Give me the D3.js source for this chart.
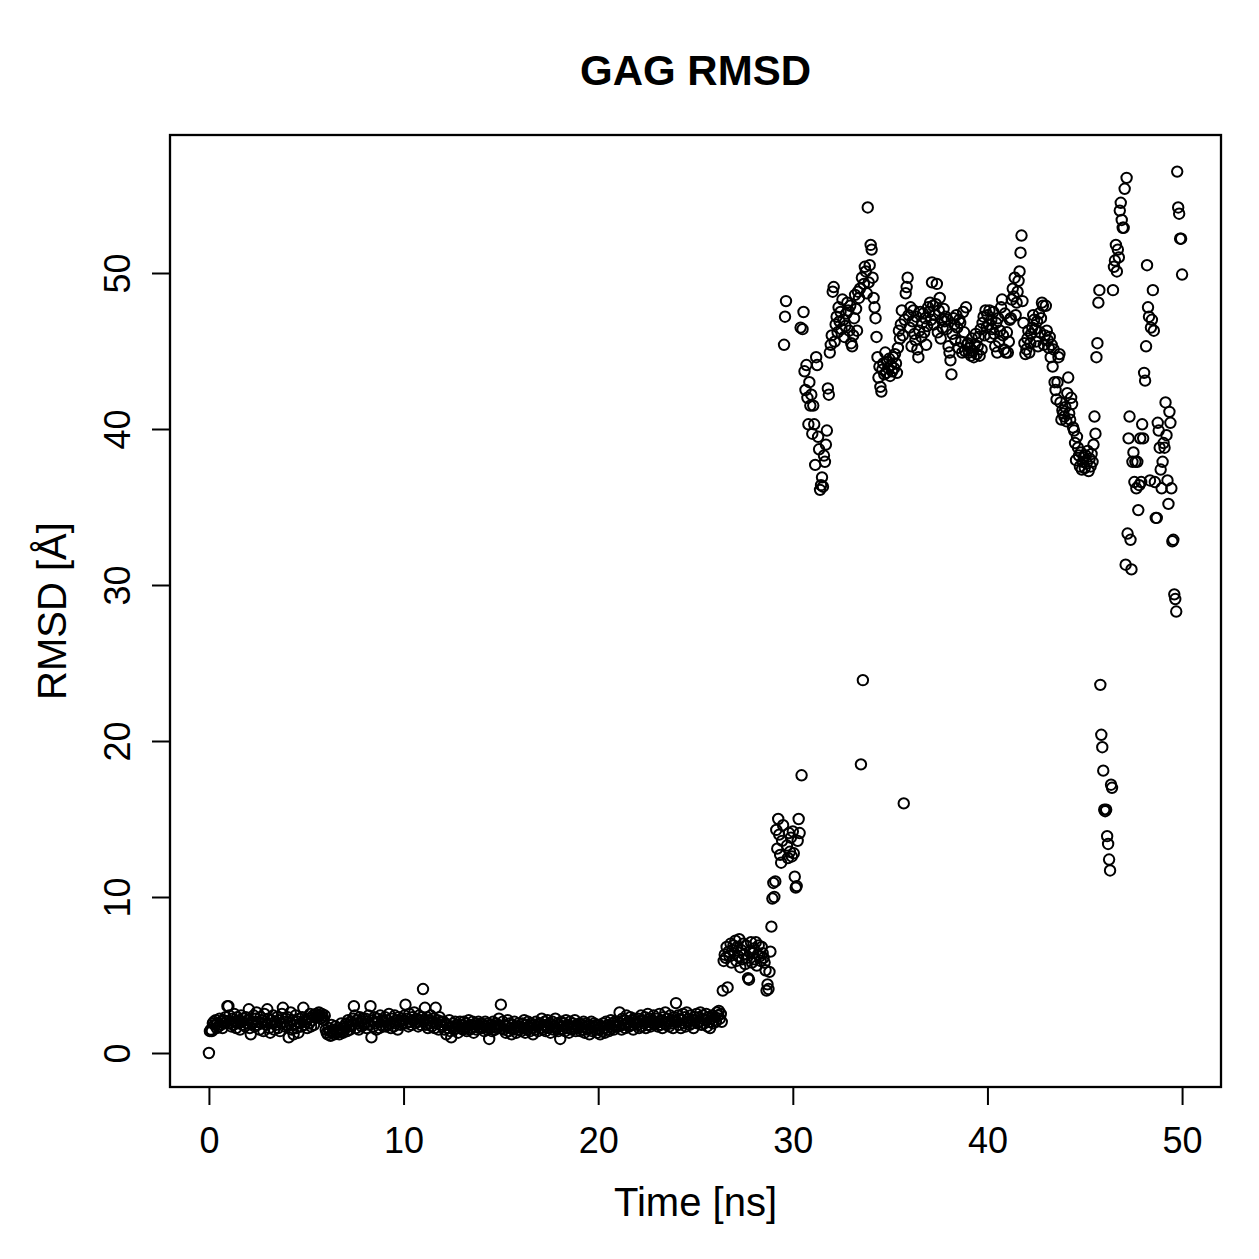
<!DOCTYPE html>
<html><head><meta charset="utf-8">
<script src="https://cdn.jsdelivr.net/npm/d3@7"></script>
<style>body{margin:0;background:#fff}text{font-family:"Liberation Sans",Arial,Helvetica,sans-serif}</style>
</head><body><svg id="c" width="1259" height="1259"></svg>
<script>
// time step of the trajectory (ns)
const timeStep = 0.05;
// RMSD values (Å), one row per ns, 20 frames each
const rmsd_00_10 = [
 0.0,1.4,1.5,1.4,1.9,2.0,1.8,2.1,1.6,1.9,1.7,2.2,1.8,2.0,1.6,2.1,1.9,2.3,2.0,3.0,
 3.0,2.4,1.9,1.7,2.2,1.8,2.5,2.0,1.6,2.3,1.9,2.1,1.5,2.4,2.0,1.8,2.2,1.7,2.3,1.9,
 2.1,2.8,1.6,1.2,2.0,1.9,2.4,1.7,2.2,2.6,1.8,2.0,1.5,2.3,1.9,2.1,1.4,2.5,2.0,1.8,
 2.8,2.2,1.6,1.3,2.1,1.9,2.4,1.5,2.0,1.8,2.3,1.6,2.1,1.4,1.9,2.5,2.9,2.0,1.7,2.2,
 1.8,2.3,1.0,1.9,2.6,1.5,2.1,1.2,1.8,2.4,1.6,2.0,1.3,2.2,1.9,1.7,2.3,2.9,1.8,2.1,
 2.0,1.6,2.2,1.9,2.5,1.7,2.1,2.4,1.8,2.3,2.5,2.4,2.3,2.6,2.4,2.2,2.5,2.3,2.1,2.4,
 1.5,1.3,1.2,1.6,1.4,1.1,1.8,1.3,1.5,1.2,1.7,1.4,1.3,1.6,1.2,1.5,1.9,1.4,1.3,1.7,
 1.6,1.9,1.4,2.1,1.7,1.5,2.0,1.8,2.2,3.0,2.4,1.6,2.1,1.9,1.5,2.3,2.0,1.7,2.2,1.8,
 1.9,2.2,1.6,2.0,2.4,1.8,3.0,1.0,2.1,1.7,2.3,1.9,1.5,2.2,2.0,1.6,2.4,1.8,2.1,1.7,
 2.0,2.3,1.7,2.1,1.8,2.5,1.9,1.6,2.2,2.0,1.7,2.4,1.9,2.1,1.5,2.3,2.0,1.8,2.2,1.9];
const rmsd_10_20 = [
 2.1,2.4,3.1,1.9,2.2,1.7,2.5,2.0,1.8,2.3,2.1,2.6,1.9,2.2,2.0,1.7,2.4,2.1,1.8,2.3,
 4.1,2.0,2.9,1.8,2.3,1.6,2.1,1.9,2.4,1.7,2.0,2.2,1.6,2.9,1.9,2.1,1.5,2.3,1.8,2.0,
 1.7,2.0,1.5,1.9,1.2,1.8,1.6,2.1,1.4,1.0,1.7,1.9,1.5,2.0,1.6,1.8,1.3,1.7,2.0,1.6,
 1.8,1.5,2.0,1.6,1.9,1.4,1.7,2.1,1.5,1.8,1.6,2.0,1.3,1.7,1.9,1.5,1.8,2.0,1.6,1.7,
 1.9,1.6,1.8,1.4,2.0,1.7,1.5,1.9,0.9,1.6,1.8,1.4,2.0,1.7,1.5,1.9,1.6,1.8,2.2,1.7,
 3.1,1.6,2.0,1.5,1.8,1.3,1.7,2.1,1.4,1.9,1.6,1.2,1.8,1.5,2.0,1.6,1.3,1.7,1.9,1.5,
 1.7,1.4,1.9,1.6,2.1,1.3,1.8,1.5,2.0,1.7,1.4,1.9,1.6,1.2,1.8,1.5,2.0,1.7,1.4,1.8,
 1.9,1.6,2.2,1.5,1.8,2.0,1.4,1.7,2.1,1.6,1.9,1.3,1.8,2.0,1.5,1.7,2.2,1.6,1.9,1.4,
 1.8,0.9,2.0,1.5,1.7,1.9,1.4,2.1,1.6,1.8,1.3,2.0,1.7,1.5,1.9,1.6,2.1,1.4,1.8,1.7,
 1.6,1.9,1.4,1.8,1.5,2.0,1.3,1.7,1.9,1.5,1.8,1.2,1.6,2.0,1.4,1.7,1.9,1.5,1.8,1.3];
const rmsd_20_30 = [
 1.5,1.8,1.2,1.7,1.4,1.9,1.6,1.3,2.0,1.5,1.8,1.4,1.7,2.1,1.6,1.9,1.5,2.0,1.7,1.8,
 2.0,1.7,2.6,1.9,1.5,2.2,1.8,2.1,1.6,2.4,1.9,2.0,1.7,2.3,1.8,2.1,1.5,2.2,1.9,2.0,
 1.8,2.2,1.6,2.0,2.4,1.7,2.1,1.9,2.3,1.6,2.0,2.5,1.8,2.2,1.7,2.1,1.9,2.4,1.8,2.0,
 2.2,1.7,2.0,2.5,1.8,2.1,1.6,2.3,1.9,2.6,1.8,2.2,2.0,1.7,2.4,1.9,2.1,1.6,2.3,2.0,
 3.2,2.0,2.4,1.8,2.2,1.6,2.1,2.5,1.9,2.3,1.7,2.6,2.0,2.2,1.8,2.4,1.9,2.1,1.6,2.3,
 2.1,2.5,1.9,2.3,2.0,2.6,1.8,2.2,2.4,1.9,2.1,2.5,1.7,2.3,2.0,1.6,2.2,2.4,1.9,2.1,
 2.3,2.0,2.6,2.4,2.7,2.2,2.5,2.0,4.0,5.9,6.3,6.1,6.8,4.2,6.5,6.2,7.0,5.8,6.6,6.9,
 6.4,7.2,5.9,6.8,6.2,7.3,5.5,6.6,6.0,7.0,6.3,5.7,6.9,6.1,4.8,4.7,6.5,7.1,5.8,6.4,
 6.7,6.0,7.1,5.6,6.3,6.9,6.2,5.9,6.8,6.4,6.1,5.8,5.3,4.0,4.4,4.1,5.2,6.5,8.1,9.9,
 10.9,10.0,11.0,14.3,13.1,15.0,14.0,12.7,12.2,13.6,14.6,45.4,47.2,48.2,13.3,12.5,14.1,12.9,13.8,12.6];
const rmsd_30_40 = [
 14.2,12.8,11.3,10.6,10.7,13.6,15.0,14.1,46.5,17.8,46.4,47.5,43.7,42.5,44.1,42.0,40.3,43.0,41.5,42.2,
 39.7,41.5,40.3,37.7,44.6,44.1,39.5,38.7,36.1,36.4,36.9,36.3,38.3,37.9,39.0,39.9,42.6,42.2,44.9,45.4,
 46.0,48.8,49.1,45.6,46.7,47.2,46.2,47.8,46.9,47.5,46.4,48.3,47.0,45.9,46.6,47.4,48.1,47.6,46.3,47.9,
 45.5,45.3,46.0,47.1,48.6,47.7,46.3,48.8,48.4,49.0,18.5,49.7,23.9,49.3,50.4,50.1,48.7,54.2,49.4,50.5,
 51.8,51.5,49.7,48.4,47.8,47.1,45.9,44.6,43.3,44.0,42.7,42.4,43.8,44.2,43.5,44.9,43.6,44.3,43.9,44.5,
 43.4,44.1,43.7,44.6,43.9,44.8,44.2,43.6,45.2,46.3,45.8,46.7,47.6,46.0,16.0,47.0,48.7,49.1,49.7,47.3,
 46.5,47.8,45.3,46.9,47.6,46.1,45.7,47.2,45.1,44.6,46.3,47.5,45.9,46.8,47.4,46.2,47.1,45.4,46.6,47.8,
 47.5,48.1,47.0,49.4,47.9,46.7,47.3,48.0,49.3,46.2,47.6,48.4,45.8,47.0,46.5,47.7,46.9,47.2,46.4,47.0,
 45.3,44.9,44.4,43.5,46.1,47.1,46.7,45.7,47.3,46.5,45.2,47.0,46.8,45.6,44.9,47.5,46.2,45.0,47.8,45.4,
 45.5,44.9,45.2,44.7,45.8,45.0,44.6,45.4,46.1,44.8,45.3,45.9,44.7,46.4,45.1,46.8,47.2,46.0,47.6,46.5];
const rmsd_40_50 = [
 47.3,46.7,47.6,45.9,47.0,46.4,47.5,46.1,45.3,46.8,44.9,47.1,45.6,46.3,47.8,48.3,46.0,45.1,47.4,44.9,
 46.2,44.9,45.6,47.0,47.1,48.3,49.0,48.5,49.7,47.3,48.1,48.8,49.5,50.1,51.3,52.4,48.2,46.8,45.5,44.8,
 45.1,45.8,46.3,44.9,45.5,46.1,46.5,47.3,47.0,46.4,45.6,46.9,45.3,47.4,46.2,47.1,48.1,47.9,45.4,46.0,
 47.9,46.3,45.7,45.2,45.9,44.6,45.4,44.0,45.1,43.0,42.5,41.9,43.0,44.6,44.8,41.7,40.6,41.2,41.0,40.8,
 41.4,40.5,42.3,43.3,41.0,40.6,42.0,41.6,40.1,39.9,39.1,38.0,39.5,38.8,38.3,37.6,38.5,37.4,37.9,38.2,
 37.5,38.3,37.8,38.6,37.3,38.1,37.6,38.4,37.9,39.0,40.8,39.7,44.6,45.5,48.1,48.9,23.6,20.4,19.6,18.1,
 15.6,15.5,15.6,13.9,13.4,12.4,11.7,17.2,17.0,48.9,50.4,50.8,51.8,50.1,51.5,51.0,54.0,54.5,53.4,52.9,
 52.9,55.4,31.3,56.1,33.3,39.4,40.8,32.9,31.0,37.9,38.5,36.6,37.9,36.2,37.9,34.8,36.4,39.4,36.6,40.3,
 39.4,43.6,43.1,45.3,50.5,47.8,47.2,36.7,46.5,47.0,48.9,46.3,36.6,34.3,34.3,40.4,39.9,38.8,37.4,36.2,
 37.9,39.1,38.8,41.7,39.6,36.7,35.2,41.1,40.4,36.2,32.8,32.9,29.4,29.1,28.3,56.5,54.2,53.8,52.2,52.2,
 49.9];
const xTicks = [0,10,20,30,40,50];
const yTicks = [0,10,20,30,40,50];
const title = "GAG RMSD";
const xLabel = "Time [ns]";
const yLabel = "RMSD [Å]";

const rmsd = [].concat(rmsd_00_10, rmsd_10_20, rmsd_20_30, rmsd_30_40, rmsd_40_50);
const data = rmsd.map((v,i)=>({t:+(i*timeStep).toFixed(2), v}));

const L=170, R=1221, T=135, B=1087;
const svg = d3.select("#c");
const x = d3.scaleLinear().domain([-2,52]).range([L,R]);
const y = d3.scaleLinear().domain([-(B-1053)/15.6, (1053-T)/15.6]).range([B,T]);

svg.append("g").selectAll("circle").data(data).join("circle")
  .attr("cx",d=>x(d.t)).attr("cy",d=>y(d.v)).attr("r",5.2)
  .attr("fill","none").attr("stroke","#000").attr("stroke-width",2);

svg.append("rect").attr("x",L).attr("y",T).attr("width",R-L).attr("height",B-T)
  .attr("fill","none").attr("stroke","#000").attr("stroke-width",2.3);

const fs = 36;
const xa = svg.append("g").attr("transform",`translate(0,${B})`)
  .call(d3.axisBottom(x).tickValues(xTicks).tickSize(18).tickFormat(d3.format("d")));
xa.select(".domain").attr("d",`M${x(0)},0H${x(50)}`).attr("stroke-width",2);
xa.selectAll(".tick line").attr("stroke-width",2);
xa.selectAll(".tick text").attr("font-size",fs).attr("font-family","Liberation Sans, Arial, sans-serif")
  .attr("fill","#000").attr("y",66).attr("dy",0);

const ya = svg.append("g").attr("transform",`translate(${L},0)`)
  .call(d3.axisLeft(y).tickValues(yTicks).tickSize(18).tickFormat(d3.format("d")));
ya.select(".domain").attr("d",`M0,${y(0)}V${y(50)}`).attr("stroke-width",2);
ya.selectAll(".tick line").attr("stroke-width",2);
ya.selectAll(".tick text").attr("font-size",fs).attr("font-family","Liberation Sans, Arial, sans-serif")
  .attr("fill","#000").attr("text-anchor","middle")
  .attr("transform","rotate(-90)").attr("x",0).attr("y",-40).attr("dy",0);

svg.append("text").attr("x",(L+R)/2).attr("y",85).attr("text-anchor","middle")
  .attr("font-size",42).attr("font-weight","bold").text(title);
svg.append("text").attr("x",(L+R)/2).attr("y",1216).attr("text-anchor","middle")
  .attr("font-size",40).text(xLabel);
svg.append("text").attr("transform",`translate(66,${(T+B)/2}) rotate(-90)`).attr("text-anchor","middle")
  .attr("font-size",40).text(yLabel);
</script></body></html>
